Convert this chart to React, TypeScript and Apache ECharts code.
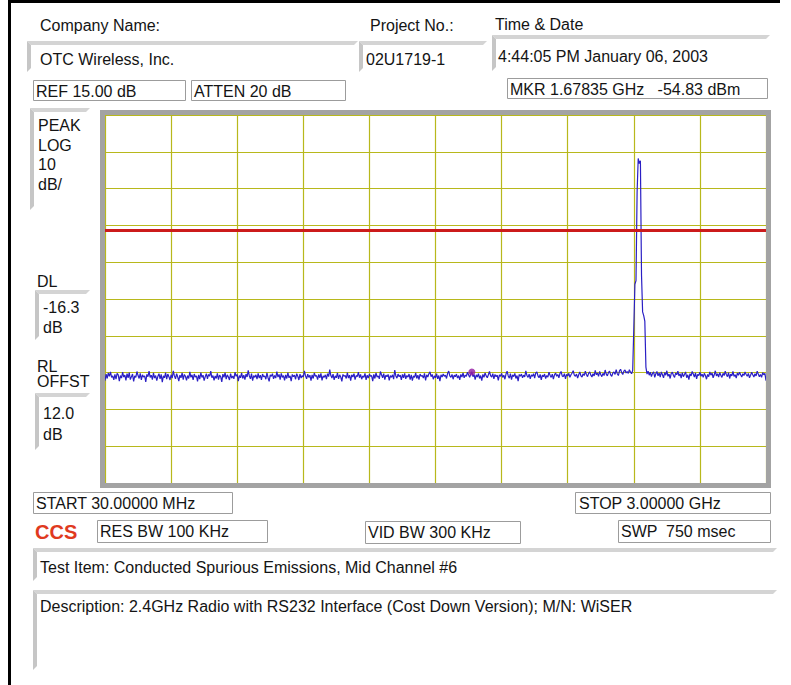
import React, { useEffect, useRef } from "react";
import * as echarts from "echarts";

// Sweep settings
const startMHz = 30;
const stopMHz = 3000;
const refLevelDb = 15;
const dbPerDiv = 10;
const divisions = 10;
const displayLineDb = -16.3;
const markerMHz = 1678.35;
const markerDbm = -54.83;

// Trace amplitude (dBm), 601 sweep points evenly spaced from START to STOP
const traceDbm: number[] = [
  -57.2, -55.4, -56.6, -55.1, -56.0, -54.8, -56.3, -55.9, -57.0, -55.5, -56.8, -55.2, -55.6, -57.3, -55.8, -56.5, -54.9, -56.2, -55.7, -57.1,
  -55.3, -56.4, -55.0, -56.9, -56.1, -55.4, -57.4, -55.9, -56.3, -54.7, -55.8, -56.6, -55.2, -57.0, -55.6, -56.2, -55.9, -57.5, -55.5, -56.1,
  -54.6, -56.3, -55.7, -56.9, -55.1, -56.5, -55.8, -57.2, -56.0, -55.3, -56.7, -55.5, -57.6, -55.9, -56.4, -55.0, -56.8, -55.4, -56.1, -57.0,
  -55.6, -56.5, -54.5, -55.9, -56.7, -55.3, -56.2, -57.3, -55.7, -56.4, -55.1, -56.9, -55.5, -56.0, -57.1, -55.8, -56.6, -54.8, -56.3, -55.6,
  -57.0, -55.4, -56.2, -55.9, -57.4, -55.6, -56.8, -55.0, -56.3, -55.7, -57.2, -56.1, -55.3, -56.7, -55.5, -56.0, -54.6, -56.4, -55.8, -57.1,
  -55.9, -56.6, -55.2, -56.9, -55.7, -56.1, -57.5, -55.4, -56.3, -55.0, -56.8, -55.6, -56.2, -57.0, -55.3, -56.5, -55.9, -56.7, -54.9, -56.0,
  -55.5, -57.3, -55.8, -56.4, -55.1, -56.6, -55.7, -56.9, -55.4, -56.2, -54.4, -55.9, -56.7, -55.3, -57.2, -55.8, -56.3, -55.6, -56.8, -55.2,
  -56.5, -55.7, -57.0, -55.4, -56.1, -55.9, -56.8, -55.1, -56.4, -57.4, -55.6, -56.0, -55.3, -56.7, -55.8, -56.5, -54.7, -56.2, -55.5, -56.9,
  -55.2, -56.3, -55.8, -57.1, -55.6, -56.6, -55.0, -56.4, -55.9, -57.3, -55.5, -56.1, -55.7, -56.8, -55.3, -56.0, -57.0, -55.4, -56.5, -55.8,
  -56.2, -54.5, -55.9, -56.7, -55.4, -56.3, -55.7, -57.2, -55.6, -56.6, -55.1, -56.0, -55.8, -56.9, -55.5, -56.4, -55.2, -57.1, -55.9, -56.3,
  -55.6, -56.8, -55.3, -56.1, -54.2, -55.8, -56.5, -55.4, -57.0, -55.9, -56.4, -55.1, -56.7, -55.6, -56.2, -57.4, -55.5, -56.0, -55.8, -56.6,
  -55.0, -56.5, -55.7, -57.2, -55.6, -56.2, -55.3, -56.9, -55.8, -56.1, -54.9, -56.4, -55.5, -56.8, -55.9, -56.3, -55.2, -57.0, -55.7, -56.5,
  -55.4, -56.0, -55.8, -57.3, -55.5, -56.6, -55.1, -56.2, -55.9, -56.7, -54.7, -55.6, -56.4, -55.3, -56.9, -55.7, -56.1, -55.5, -57.1, -55.8,
  -56.3, -55.6, -56.8, -54.3, -55.9, -56.5, -55.4, -56.1, -55.7, -57.0, -55.5, -56.4, -55.2, -56.7, -55.8, -56.2, -55.4, -56.9, -55.6, -57.2,
  -55.9, -56.3, -55.1, -56.6, -55.7, -56.9, -55.4, -56.0, -55.8, -56.5, -55.2, -57.1, -55.6, -56.2, -55.3, -54.8, -56.1, -55.5, -56.8, -55.9,
  -56.4, -55.3, -56.7, -55.8, -57.3, -55.6, -56.2, -55.4, -56.0, -55.7, -56.6, -55.2, -54.6, -55.9, -56.3, -55.5, -56.8, -55.7, -56.1, -55.4,
  -56.5, -55.8, -57.0, -55.5, -56.2, -55.1, -56.4, -55.7, -56.0, -54.9, -55.6, -56.3, -55.4, -54.8, -56.1, -55.5, -56.9, -55.6, -56.2, -55.3,
  -56.6, -55.8, -57.2, -55.5, -56.3, -55.1, -55.9, -56.4, -55.6, -54.7, -55.8, -56.2, -55.3, -56.7, -55.5, -56.1, -55.7, -57.1, -55.6, -56.0,
  -55.2, -56.3, -55.7, -56.8, -55.4, -54.6, -55.9, -56.5, -55.3, -56.9, -55.6, -56.1, -55.2, -56.6, -55.8, -57.3, -55.5, -56.0, -55.4, -56.4,
  -55.7, -56.2, -54.5, -55.8, -56.3, -55.4, -56.7, -55.6, -56.0, -55.3, -56.5, -55.1, -54.8, -55.9, -56.4, -55.5, -57.0, -55.7, -56.1, -55.4,
  -56.6, -55.8, -56.2, -54.9, -55.7, -56.3, -55.4, -56.8, -55.6, -55.1, -56.0, -55.5, -56.4, -55.2, -54.7, -55.9, -56.1, -55.3, -56.7, -55.5,
  -55.9, -55.2, -56.3, -55.6, -55.1, -54.5, -55.7, -56.0, -55.4, -56.5, -55.6, -54.8, -55.9, -56.2, -55.3, -55.8, -54.6, -55.5, -56.1, -55.2,
  -54.8, -55.7, -56.2, -55.3, -55.9, -54.4, -55.6, -55.1, -56.0, -54.7, -55.5, -56.1, -55.2, -55.8, -54.3, -55.4, -55.9, -55.0, -54.6, -55.6,
  -56.0, -55.1, -54.8, -55.5, -54.2, -55.3, -55.8, -54.5, -54.1, -55.0, -55.5, -54.6, -54.3, -55.1, -54.7, -55.2, -54.2, -54.9, -55.3, -54.4,
  -43.0, -31.0, -30.0, -6.0, 3.2, 1.8, 2.6, -28.5, -38.5, -39.5, -41.0, -53.5, -55.4, -54.6, -55.7, -54.9, -56.1, -55.2, -54.8, -56.3,
  -55.3, -54.7, -55.9, -55.1, -56.2, -54.8, -55.6, -56.4, -55.0, -55.7, -54.5, -56.0, -55.4, -56.6, -55.2, -54.9, -55.8, -56.3, -55.1, -55.6,
  -54.6, -55.9, -55.3, -56.5, -55.0, -56.1, -55.5, -54.8, -56.4, -55.6, -56.9, -55.3, -55.9, -54.7, -55.4, -56.2, -55.1, -56.7, -55.5, -55.8,
  -54.9, -56.0, -55.4, -56.3, -55.2, -55.8, -56.8, -55.5, -56.1, -54.8, -55.7, -55.1, -56.4, -55.6, -54.5, -55.9, -55.3, -56.2, -55.0, -55.7,
  -56.3, -55.2, -55.8, -54.6, -55.5, -56.1, -55.0, -56.6, -55.4, -55.9, -54.7, -56.0, -55.6, -56.5, -55.1, -55.7, -54.9, -55.6, -56.2, -55.3,
  -55.8, -54.8, -55.5, -56.0, -55.2, -56.4, -55.7, -54.9, -55.6, -56.2, -55.3, -55.9, -54.6, -55.4, -56.1, -55.5, -56.3, -55.0, -55.6, -55.2,
  -57.2,
];

// Instrument annotations
const companyName = "OTC Wireless, Inc.";
const projectNo = "02U1719-1";
const timeDate = "4:44:05 PM January 06, 2003";
const refText = "REF 15.00 dB";
const attenText = "ATTEN 20 dB";
const markerText = "MKR 1.67835 GHz   -54.83 dBm";
const scaleLines = ["PEAK", "LOG", "10", "dB/"];
const dlLines = ["-16.3", "dB"];
const offsetLines = ["12.0", "dB"];
const startText = "START 30.00000 MHz";
const stopText = "STOP 3.00000 GHz";
const resBwText = "RES BW 100 KHz";
const vidBwText = "VID BW 300 KHz";
const sweepText = "SWP  750 msec";
const testItem = "Test Item: Conducted Spurious Emissions, Mid Channel #6";
const description = "Description: 2.4GHz Radio with RS232 Interface (Cost Down Version); M/N: WiSER";

const FONT = '"Liberation Sans", Arial, sans-serif';
const BEVEL = "#d4d4d4";
const BOX = "#9c9c9c";

function label(text: string, x: number, y: number, extra: any = {}) {
  return {
    type: "text",
    x,
    y,
    z: 20,
    silent: true,
    style: {
      text,
      fill: "#141414",
      fontSize: 16,
      fontFamily: FONT,
      verticalAlign: "middle",
      align: "left",
      ...extra,
    },
  };
}

function box(x: number, y: number, w: number, h: number) {
  return {
    type: "rect",
    z: 15,
    silent: true,
    shape: { x: x + 0.5, y: y + 0.5, width: w, height: h },
    style: { fill: "#fff", stroke: BOX, lineWidth: 1 },
  };
}

// Sunken-panel look: thick light-grey bar on the top and on the left edge
function bevel(x: number, y: number, w: number, h: number) {
  return {
    type: "group",
    z: 15,
    silent: true,
    children: [
      {
        type: "polygon",
        shape: { points: [[x, y], [x + w, y], [x + w - 4, y + 4], [x + 4, y + 4]] },
        style: { fill: BEVEL },
      },
      {
        type: "polygon",
        shape: { points: [[x, y], [x + 4, y + 4], [x + 4, y + h - 4], [x, y + h]] },
        style: { fill: "#c6c6c6" },
      },
    ],
  };
}

export default function App() {
  const ref = useRef<HTMLDivElement>(null);

  useEffect(() => {
    if (!ref.current) return;
    const chart = echarts.init(ref.current, null, { renderer: "svg" });

    const n = traceDbm.length;
    const stepMHz = (stopMHz - startMHz) / (n - 1);
    const trace = traceDbm.map((v, i) => [startMHz + i * stepMHz, v]);
    const bottomDb = refLevelDb - dbPerDiv * divisions;

    const gridAxis = (color: string) => ({
      type: "value",
      min: 0,
      max: divisions,
      interval: 1,
      axisLine: { show: false },
      axisTick: { show: false },
      axisLabel: { show: false },
      splitLine: { show: true, lineStyle: { color, width: 1.2 } },
    });

    const graphics: any[] = [
      // outer frame lines
      { type: "rect", z: 5, silent: true, shape: { x: 8, y: 0, width: 772, height: 3 }, style: { fill: "#000" } },
      { type: "rect", z: 5, silent: true, shape: { x: 8, y: 0, width: 3, height: 685 }, style: { fill: "#000" } },

      // header
      label("Company Name:", 40, 25),
      bevel(27, 41, 331, 31),
      label(companyName, 40, 59),
      label("Project No.:", 370, 25),
      bevel(359, 41, 128, 31),
      label(projectNo, 366, 59),
      label("Time & Date", 495, 24),
      bevel(492, 35, 278, 36),
      label(timeDate, 498, 56),

      box(33, 80, 152, 20),
      label(refText, 36, 91),
      box(191, 80, 154, 20),
      label(attenText, 194, 91),
      box(507, 78, 260, 20),
      label(markerText, 510, 89),

      // left annotation column
      bevel(30, 108, 60, 102),
      ...scaleLines.map((t, i) => label(t, 38, 125.5 + i * 19.5)),
      label("DL", 37, 281),
      bevel(35, 290, 55, 50),
      ...dlLines.map((t, i) => label(t, 43, 307.5 + i * 20)),
      label("RL", 37, 366),
      label("OFFST", 37, 381.5),
      bevel(35, 393, 55, 57),
      ...offsetLines.map((t, i) => label(t, 43, 413.5 + i * 20.5)),

      // plot frame
      {
        type: "rect",
        z: 12,
        silent: true,
        shape: { x: 102.5, y: 112.5, width: 666, height: 373 },
        style: { fill: "none", stroke: "#a3a3a3", lineWidth: 5 },
      },

      // footer
      box(33, 492, 199, 21),
      label(startText, 36, 503),
      box(575, 492, 195, 21),
      label(stopText, 579, 503),
      label("CCS", 35, 532, { fill: "#e03a1e", fontSize: 20, fontWeight: "bold" }),
      box(97, 520, 170, 22),
      label(resBwText, 100, 531),
      box(365, 521, 155, 22),
      label(vidBwText, 368, 532),
      box(618, 520, 152, 22),
      label(sweepText, 621, 531),

      bevel(33, 548, 744, 33),
      label(testItem, 40, 567),
      bevel(33, 590, 744, 80),
      label(description, 40, 606),
    ];

    chart.setOption({
      animation: false,
      backgroundColor: "#ffffff",
      grid: { left: 105, top: 115, width: 661, height: 368, show: false },
      xAxis: [
        gridAxis("#b8b81c"),
        {
          type: "value",
          min: startMHz,
          max: stopMHz,
          show: false,
          splitLine: { show: false },
        },
      ],
      yAxis: [
        gridAxis("#b8b81c"),
        {
          type: "value",
          min: bottomDb,
          max: refLevelDb,
          show: false,
          splitLine: { show: false },
        },
      ],
      series: [
        {
          type: "line",
          xAxisIndex: 1,
          yAxisIndex: 1,
          data: trace,
          showSymbol: false,
          symbol: "none",
          lineStyle: { color: "#2a1fc4", width: 1.2 },
          z: 4,
          markLine: {
            silent: true,
            symbol: "none",
            label: { show: false },
            lineStyle: { color: "#cc1b1b", width: 3, type: "solid" },
            data: [{ yAxis: displayLineDb }],
          },
        },
        {
          type: "scatter",
          xAxisIndex: 1,
          yAxisIndex: 1,
          data: [[markerMHz, markerDbm]],
          symbol: "circle",
          symbolSize: 7,
          itemStyle: { color: "#931aa3" },
          z: 6,
        },
      ],
      graphic: graphics,
    });

    return () => chart.dispose();
  }, []);

  return (
    <div
      ref={ref}
      style={{ position: "absolute", left: 0, top: 0, width: 791, height: 685, background: "#fff" }}
    />
  );
}
